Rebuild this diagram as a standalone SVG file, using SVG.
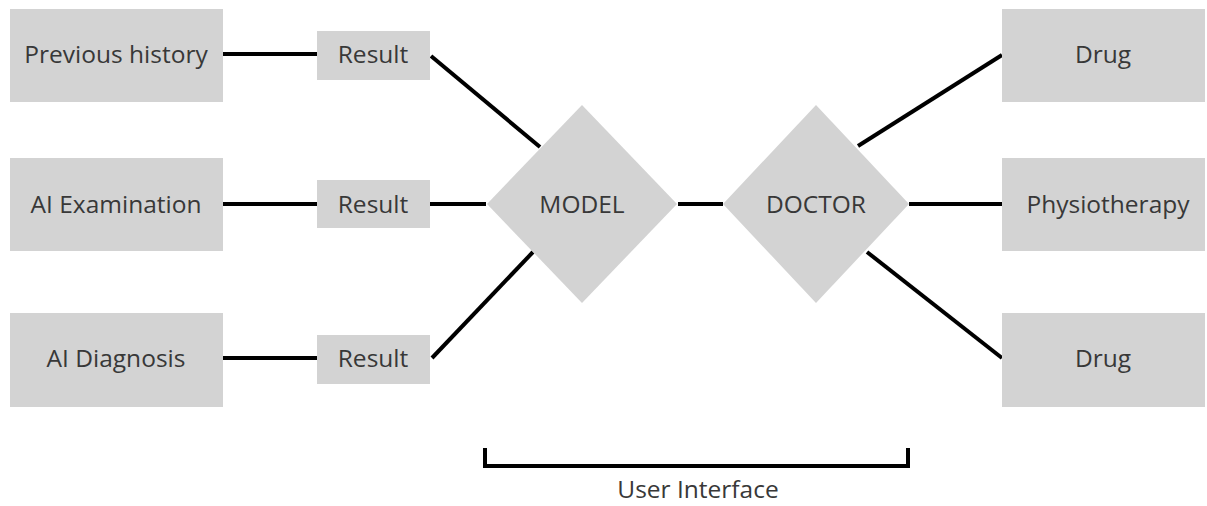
<svg xmlns="http://www.w3.org/2000/svg" width="1207" height="506" viewBox="0 0 1207 506">
<style>
.box{fill:#d3d3d3}
.t{font-family:"Open Sans","Noto Sans",sans-serif;font-size:24.5px;fill:#383838;text-anchor:middle}
.c{stroke:#000;stroke-width:4;fill:none}
</style>
<rect width="1207" height="506" fill="#fff"/>
<g id="connectors">
<line class="c" x1="223" y1="54" x2="317" y2="54"/>
<line class="c" x1="223" y1="204" x2="317" y2="204"/>
<line class="c" x1="223" y1="358" x2="317" y2="358"/>
<line class="c" x1="431" y1="56" x2="540" y2="147"/>
<line class="c" x1="430" y1="204" x2="486" y2="204"/>
<line class="c" x1="432" y1="358" x2="533" y2="252"/>
<line class="c" x1="678" y1="204" x2="723" y2="204"/>
<line class="c" x1="858" y1="146" x2="1002" y2="55"/>
<line class="c" x1="909" y1="204" x2="1002" y2="204"/>
<line class="c" x1="867" y1="252" x2="1002" y2="358"/>
<path class="c" d="M485 448 V466 H908 V448" stroke-width="3"/>
</g>
<g id="previous-history"><rect class="box" x="10" y="9" width="213" height="93"/><text class="t" x="116" y="63">Previous history</text></g>
<g id="ai-examination"><rect class="box" x="10" y="158" width="213" height="93"/><text class="t" x="116" y="213">AI Examination</text></g>
<g id="ai-diagnosis"><rect class="box" x="10" y="313" width="213" height="94"/><text class="t" x="116" y="367">AI Diagnosis</text></g>
<g id="result-1"><rect class="box" x="317" y="31" width="113" height="49"/><text class="t" x="373" y="63">Result</text></g>
<g id="result-2"><rect class="box" x="317" y="180" width="113" height="48"/><text class="t" x="373" y="213">Result</text></g>
<g id="result-3"><rect class="box" x="317" y="335" width="113" height="49"/><text class="t" x="373" y="367">Result</text></g>
<g id="model"><polygon class="box" points="582,105 677,204 582,303 487,204"/><text class="t" x="582" y="213">MODEL</text></g>
<g id="doctor"><polygon class="box" points="816,105 909,204 816,303 723,204"/><text class="t" x="816" y="213">DOCTOR</text></g>
<g id="drug-1"><rect class="box" x="1002" y="9" width="203" height="93"/><text class="t" x="1103" y="63">Drug</text></g>
<g id="physiotherapy"><rect class="box" x="1002" y="158" width="203" height="93"/><text class="t" x="1108" y="213">Physiotherapy</text></g>
<g id="drug-2"><rect class="box" x="1002" y="313" width="203" height="94"/><text class="t" x="1103" y="367">Drug</text></g>
<g id="user-interface"><text class="t" x="698" y="498">User Interface</text></g>
</svg>
